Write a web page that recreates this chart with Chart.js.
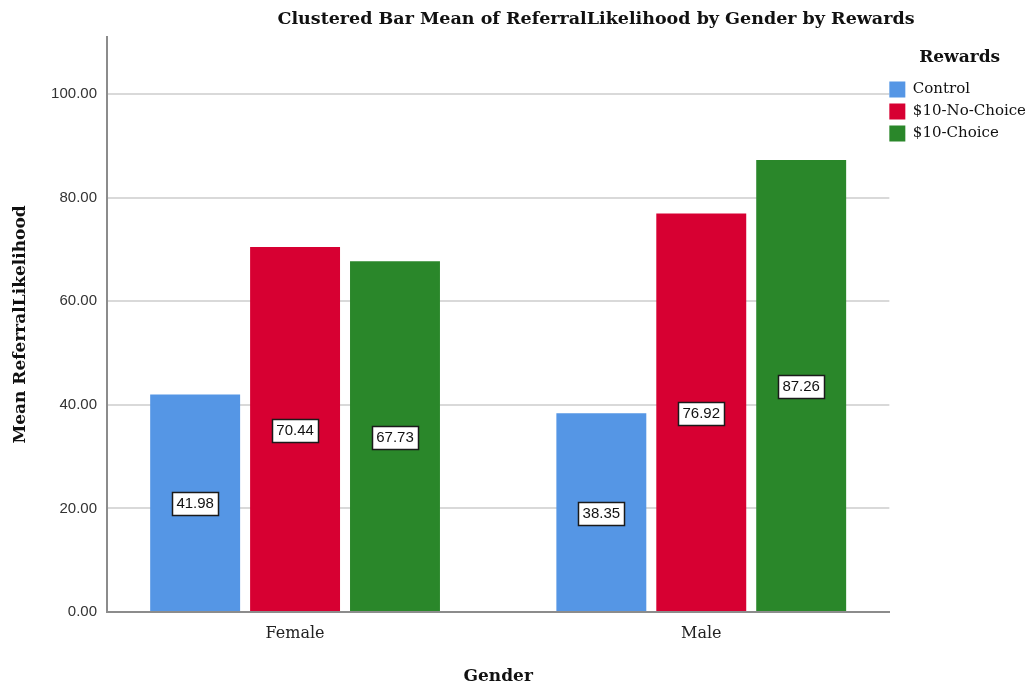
<!DOCTYPE html>
<html>
<head>
<meta charset="utf-8">
<title>Clustered Bar Mean of ReferralLikelihood by Gender by Rewards</title>
<script src="https://cdn.jsdelivr.net/npm/chart.js@4/dist/chart.umd.min.js"></script>
<style>
  html, body { margin: 0; padding: 0; background: #fff; }
  #wrap { width: 1029px; height: 687px; }
</style>
</head>
<body>
<div id="wrap"><canvas id="chart"></canvas></div>
<script>
// chart data
const genders = ['Female', 'Male'];
const rewards = ['Control', '$10-No-Choice', '$10-Choice'];
const control = [41.98, 38.35];
const noChoice = [70.44, 76.92];
const choice = [67.73, 87.26];
const yTicks = [0, 20, 40, 60, 80, 100];

const barColors = ['#5596e5', '#d70032', '#2a872a'];
const seriesValues = [control, noChoice, choice];

const SERIF = '"DejaVu Serif", serif';
const SANS = '"Liberation Sans", Arial, sans-serif';

// value boxes drawn at half the bar height
const barLabels = {
    id: 'barLabels',
    afterDatasetsDraw(chart) {
        const ctx = chart.ctx;
        const yScale = chart.scales.y;
        ctx.save();
        ctx.font = '15px ' + SANS;
        ctx.textAlign = 'center';
        ctx.textBaseline = 'middle';
        chart.data.datasets.forEach((ds, i) => {
            chart.getDatasetMeta(i).data.forEach((bar, j) => {
                const v = ds.data[j].y;
                const text = v.toFixed(2);
                const cy = Math.round(yScale.getPixelForValue(v / 2));
                const w = Math.round(ctx.measureText(text).width + 8);
                const h = 23;
                const bx = Math.round(bar.x - w / 2) + 0.5;
                const by = Math.round(cy - h / 2) + 0.5;
                ctx.fillStyle = '#ffffff';
                ctx.fillRect(bx, by, w, h);
                ctx.strokeStyle = '#1a1a1a';
                ctx.lineWidth = 1.5;
                ctx.strokeRect(bx, by, w, h);
                ctx.fillStyle = '#111';
                ctx.fillText(text, bar.x, cy + 1);
            });
        });
        ctx.restore();
    }
};

// main heading
const heading = {
    id: 'heading',
    afterDraw(chart) {
        const ctx = chart.ctx;
        ctx.save();
        ctx.font = 'bold 17.5px ' + SERIF;
        ctx.fillStyle = '#111';
        ctx.textAlign = 'center';
        ctx.textBaseline = 'middle';
        ctx.fillText('Clustered Bar Mean of ReferralLikelihood by Gender by Rewards', 596, 19);
        ctx.restore();
    }
};

// pull the legend a little closer to the plot edge
const legendNudge = {
    id: 'legendNudge',
    afterLayout(chart) {
        const lg = chart.legend;
        if (!lg) return;
        lg.left -= 6;
        lg.right -= 6;
    }
};

const datasets = rewards.map((name, i) => ({
    label: name,
    data: seriesValues[i].map((v, k) => ({ x: k, y: v })),
    backgroundColor: barColors[i],
    borderWidth: 0,
    categoryPercentage: 0.738,
    barPercentage: 0.9
}));

new Chart(document.getElementById('chart'), {
    type: 'bar',
    data: { datasets },
    plugins: [barLabels, heading, legendNudge],
    options: {
        responsive: true,
        maintainAspectRatio: false,
        animation: false,
        layout: { padding: { top: 37, left: 8, right: -13, bottom: 0 } },
        scales: {
            x: {
                type: 'linear',
                offset: false,
                min: -0.463,
                max: 1.463,
                afterBuildTicks: s => { s.ticks = genders.map((g, i) => ({ value: i })); },
                afterFit: s => { s.height = 75; },
                ticks: {
                    callback: v => genders[v],
                    font: { family: SERIF, size: 16 },
                    color: '#222',
                    padding: 12
                },
                grid: { display: false, drawTicks: false },
                border: { color: '#8c8c8c', width: 2 },
                title: {
                    display: true,
                    text: 'Gender',
                    font: { family: SERIF, size: 17, weight: 'bold' },
                    color: '#111',
                    padding: { top: 4, bottom: 0 }
                }
            },
            y: {
                min: 0,
                max: 111,
                afterBuildTicks: s => { s.ticks = yTicks.map(v => ({ value: v })); },
                afterFit: s => { s.width = 99; },
                ticks: {
                    callback: v => v.toFixed(2),
                    font: { family: SANS, size: 15 },
                    color: '#333',
                    padding: 10
                },
                grid: { color: '#d9d9d9', lineWidth: 2, drawTicks: false },
                border: { color: '#8c8c8c', width: 2 },
                title: {
                    display: true,
                    text: 'Mean ReferralLikelihood',
                    font: { family: SERIF, size: 17, weight: 'bold' },
                    color: '#111',
                    padding: { top: 2, bottom: 10 }
                }
            }
        },
        plugins: {
            legend: {
                position: 'right',
                align: 'start',
                title: {
                    display: true,
                    text: 'Rewards',
                    font: { family: SERIF, size: 17, weight: 'bold' },
                    color: '#111',
                    padding: { top: 12, bottom: 6 }
                },
                labels: {
                    boxWidth: 16,
                    boxHeight: 16,
                    padding: 6,
                    font: { family: SERIF, size: 15 },
                    color: '#111'
                }
            },
            tooltip: { enabled: false }
        }
    }
});
</script>
</body>
</html>
